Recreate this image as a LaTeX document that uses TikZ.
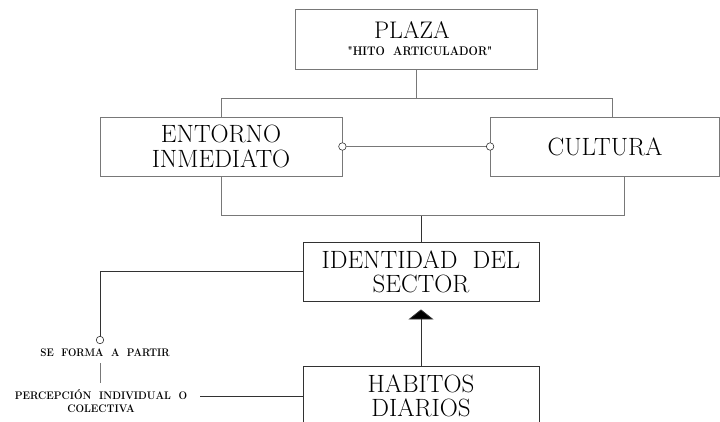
\documentclass[tikz,border=0pt]{standalone}
\usepackage{graphicx}
\usetikzlibrary{arrows.meta}
\definecolor{lgray}{RGB}{120,120,120}
\definecolor{dgray}{RGB}{50,50,50}
\tikzset{
  box/.style={draw=lgray, line width=0.8pt, rectangle, inner sep=0pt, align=center},
  dbox/.style={draw=dgray, line width=0.8pt, rectangle, inner sep=0pt, align=center},
  ln/.style={draw=lgray, line width=0.8pt},
  dln/.style={draw=dgray, line width=0.8pt},
  ring/.style={circle, draw=dgray, line width=0.6pt, inner sep=0pt, minimum size=7.5pt, fill=white},
  big/.style={font=\fontsize{25}{26}\selectfont},
  lbl/.style={inner sep=0pt, align=center, font=\bfseries\fontsize{11}{13}\selectfont}
}
\begin{document}
\begin{tikzpicture}[x=1pt,y=-1pt]
\useasboundingbox (0,0) rectangle (720,421);
% boxes
\node[box, minimum width=242pt, minimum height=60pt] (plaza) at (416,39) {};
\node[inner sep=0pt, font=\fontsize{24}{24}\selectfont] (plazat) at (412,30) {PLAZA};
\node[inner sep=0pt, font=\bfseries\fontsize{12.5}{13}\selectfont] (plazas) at (420,51.5) {\scalebox{0.88}[1]{\textquotedbl HITO\ \ ARTICULADOR\textquotedbl}};
\node[box, big, minimum width=242pt, minimum height=59pt] (entorno) at (221,146.5) {ENTORNO\\[-1pt]INMEDIATO};
\node[box, big, minimum width=229pt, minimum height=59pt] (cultura) at (605,146.5) {CULTURA};
\node[dbox, big, minimum width=236pt, minimum height=59pt] (identidad) at (421,271.5) {IDENTIDAD\ \ DEL\\[-2pt]SECTOR};
\node[dbox, minimum width=236pt, minimum height=76pt] (habitos) at (421,404) {};
\node[inner sep=0pt, big, align=center] (habitost) at (421,396) {HABITOS\\[-2pt]DIARIOS};
% junctions
\coordinate (j1) at (416,98.5);
\coordinate (tr) at (612,98.5);
\coordinate (br) at (624,215.5);
\draw[ln] (plaza.south) -- (j1);
\draw[ln] (entorno.north) |- (tr) -- (tr |- cultura.north);
\draw[ln] (entorno.south) |- (br) -- (br |- cultura.south);
\draw[dln] (identidad.north) -- (identidad.north |- br);
% ring connector
\node[ring] (c1) at (entorno.east |- 0,146.5) {};
\node[ring] (c2) at (cultura.west |- 0,146.5) {};
\draw[ln] (c1) -- (c2);
% arrow
\draw[dln, -{Triangle[width=25pt,length=10pt,fill=black]}, shorten >=8pt] (habitos.north) -- (identidad.south);
% left side
\node[ring] (c3) at (100,340) {};
\draw[dln] (identidad.west) -| (c3.north);
\node[lbl] (forma) at (105,353) {\scalebox{0.9}[1]{SE\ \ FORMA\ \ A\ \ PARTIR}};
\coordinate (s1) at (100,363);
\coordinate (s2) at (100,383);
\draw[ln] (s1) -- (s2);
\node[lbl] (percep) at (101,401.5) {\scalebox{0.92}[1]{PERCEPCIÓN\ \ INDIVIDUAL\ \ O}\\\scalebox{0.92}[1]{COLECTIVA}};
\coordinate (p1) at (200,396);
\draw[dln] (p1) -- (p1 -| habitos.west);
\end{tikzpicture}
\end{document}
